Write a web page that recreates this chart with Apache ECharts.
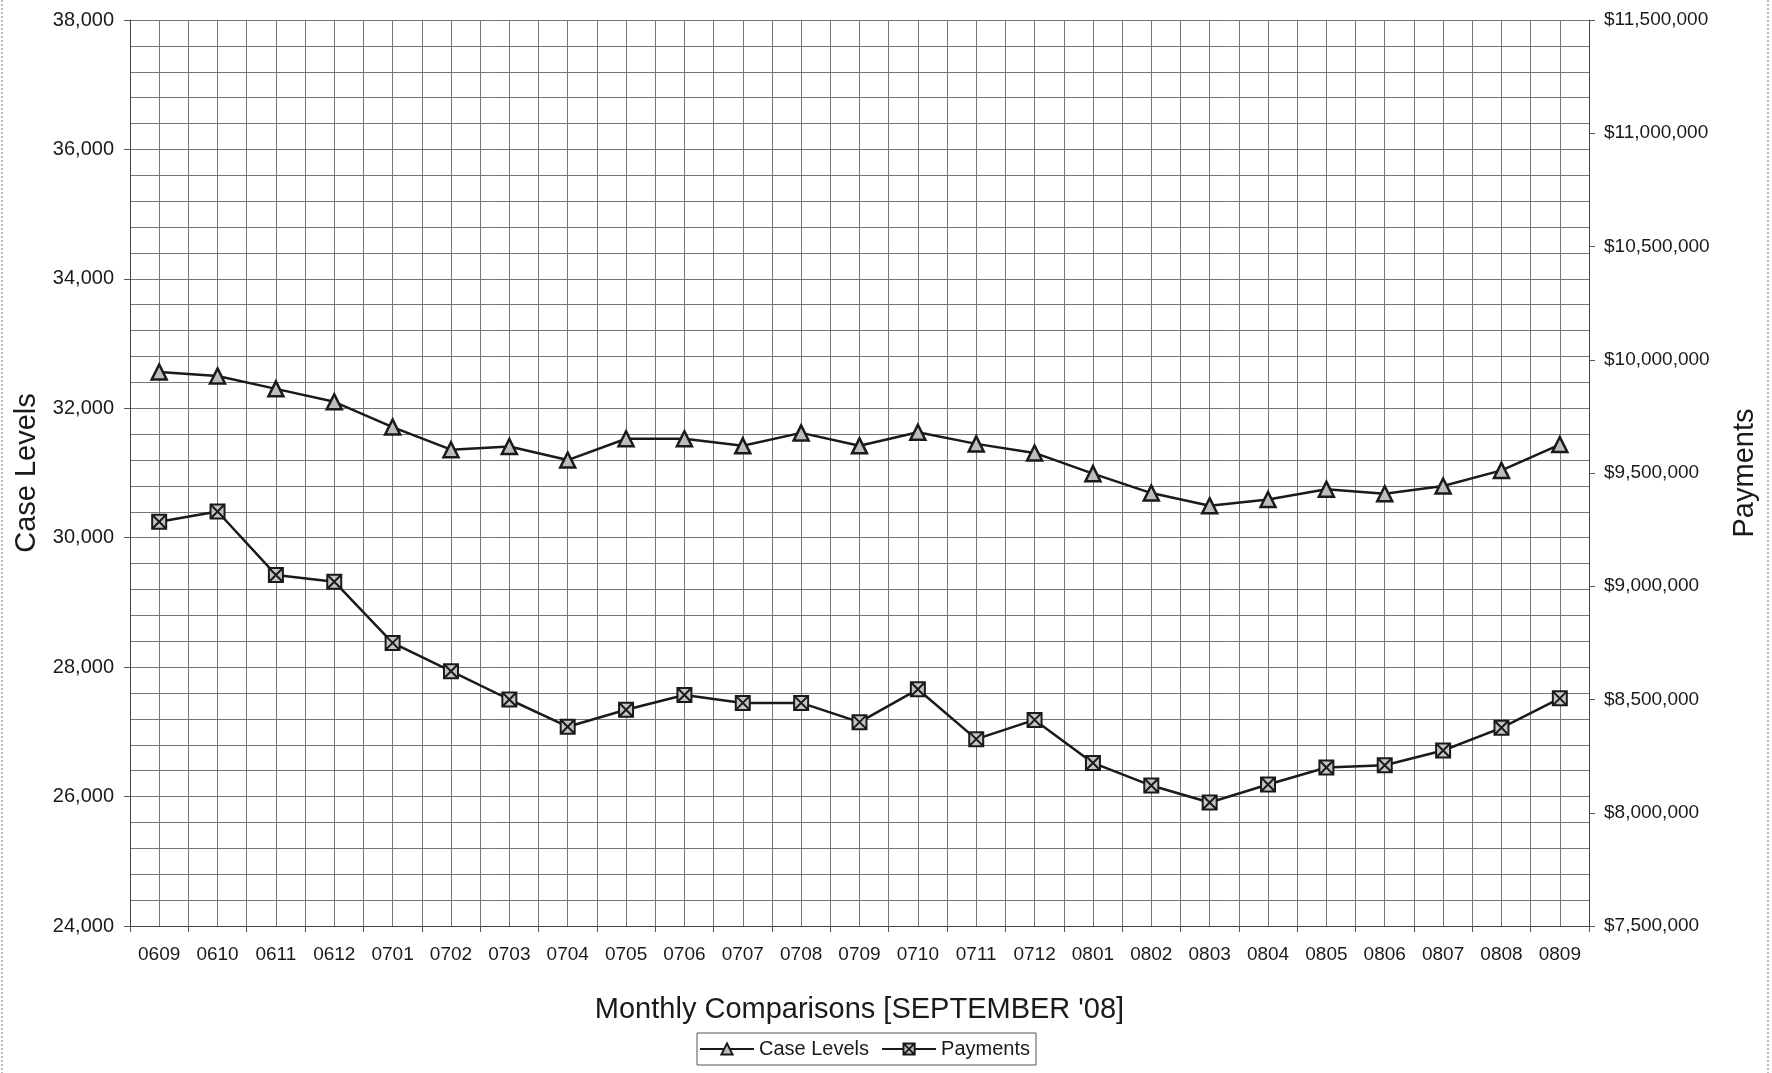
<!DOCTYPE html>
<html>
<head>
<meta charset="utf-8">
<style>html,body{margin:0;padding:0;background:#fff;}#c{width:1772px;height:1073px;}</style>
<script src="https://cdn.jsdelivr.net/npm/echarts@6/dist/echarts.min.js"></script>
</head>
<body>
<div id="c"></div>
<script>
var categories = ['0609','0610','0611','0612','0701','0702','0703','0704','0705','0706','0707','0708','0709','0710','0711','0712','0801','0802','0803','0804','0805','0806','0807','0808','0809'];
var caseLevels = [32560,32500,32300,32100,31710,31360,31410,31200,31530,31530,31420,31620,31420,31630,31450,31310,30990,30690,30495,30590,30750,30680,30800,31040,31440];
var payments = [9285000,9330000,9050000,9020000,8750000,8625000,8500000,8380000,8455000,8520000,8485000,8485000,8400000,8545000,8325000,8410000,8220000,8120000,8045000,8125000,8200000,8210000,8275000,8375000,8505000];

var FONT = "'Liberation Sans', Arial, sans-serif";
var gridColor = '#767676';
var squareX = 'path://M0,0L10,0L10,10L0,10Z M0,0L10,10 M10,0L0,10';

var chart = echarts.init(document.getElementById('c'), null, {renderer:'canvas'});
chart.setOption({
  backgroundColor:'#fff',
  animation:false,
  textStyle:{fontFamily:FONT,color:'#1a1a1a'},
  grid:{left:130,right:183,top:20,bottom:147,containLabel:false},
  legend:{
    data:['Case Levels','Payments'],
    left:697, top:1033,
    borderColor:'#555', borderWidth:1, padding:[6,6,6,2],
    itemWidth:54, itemHeight:14, itemGap:12,
    textStyle:{fontFamily:FONT,fontSize:20,color:'#1a1a1a'}
  },
  xAxis:[{
    type:'category', data:categories, boundaryGap:true,
    axisLine:{lineStyle:{color:'#444',width:1}},
    axisTick:{show:true,length:6,lineStyle:{color:'#555'}},
    axisLabel:{fontFamily:FONT,fontSize:19,color:'#1a1a1a',margin:19,interval:0},
    splitLine:{show:false},
    name:"Monthly Comparisons [SEPTEMBER '08]", nameLocation:'middle', nameGap:69,
    nameTextStyle:{fontFamily:FONT,fontSize:29,color:'#1a1a1a'}
  },{
    type:'value', min:0, max:50, interval:1, show:true, position:'top',
    axisLine:{show:false}, axisTick:{show:false}, axisLabel:{show:false},
    splitLine:{show:true,lineStyle:{color:gridColor,width:1}}
  }],
  yAxis:[{
    type:'value', min:24000, max:38000, interval:2000,
    axisLine:{show:true,lineStyle:{color:'#444'}},
    axisTick:{show:true,length:6,lineStyle:{color:'#555'}},
    axisLabel:{fontFamily:FONT,fontSize:20,color:'#1a1a1a',margin:16,
      formatter:function(v){return v.toLocaleString('en-US');}},
    splitLine:{show:true,lineStyle:{color:gridColor,width:1}},
    minorTick:{show:false,splitNumber:5},
    minorSplitLine:{show:true,lineStyle:{color:gridColor,width:1}},
    name:'Case Levels', nameLocation:'middle', nameGap:84, nameRotate:90,
    nameTextStyle:{fontFamily:FONT,fontSize:29,color:'#1a1a1a'}
  },{
    type:'value', min:7500000, max:11500000, interval:500000, position:'right',
    axisLine:{show:true,lineStyle:{color:'#444'}},
    axisTick:{show:true,length:6,lineStyle:{color:'#555'}},
    axisLabel:{fontFamily:FONT,fontSize:19,color:'#1a1a1a',margin:15,
      formatter:function(v){return '$'+v.toLocaleString('en-US');}},
    splitLine:{show:false},
    name:'Payments', nameLocation:'middle', nameGap:141, nameRotate:90,
    nameTextStyle:{fontFamily:FONT,fontSize:29,color:'#1a1a1a'}
  }],
  graphic:[
    {type:'line',shape:{x1:2,y1:0,x2:2,y2:1073},style:{stroke:'#777',lineWidth:1,lineDash:[2,2]}},
    {type:'line',shape:{x1:1768,y1:0,x2:1768,y2:1073},style:{stroke:'#777',lineWidth:1,lineDash:[2,2]}}
  ],
  series:[{
    name:'Case Levels', type:'line', xAxisIndex:0, yAxisIndex:0, data:caseLevels,
    symbol:'triangle', symbolSize:15,
    lineStyle:{color:'#1a1a1a',width:2.5},
    itemStyle:{color:'#bdbdbd',borderColor:'#1a1a1a',borderWidth:2.5}
  },{
    name:'Payments', type:'line', xAxisIndex:0, yAxisIndex:1, data:payments,
    symbol:squareX, symbolSize:14,
    lineStyle:{color:'#1a1a1a',width:2.5},
    itemStyle:{color:'#c4c4c4',borderColor:'#1a1a1a',borderWidth:2}
  }]
});
</script>
</body>
</html>
